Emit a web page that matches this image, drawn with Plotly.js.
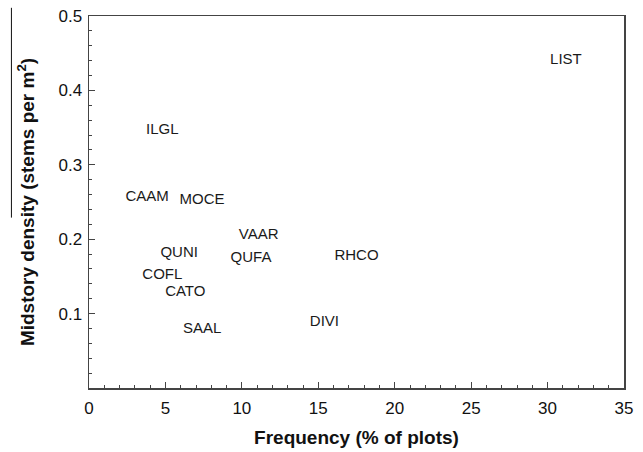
<!DOCTYPE html>
<html>
<head>
<meta charset="utf-8">
<script src="https://cdn.plot.ly/plotly-3.0.1.min.js"></script>
<style>html,body{margin:0;padding:0;background:#fff}#chart{width:643px;height:452px}</style>
</head>
<body>
<div id="chart"></div>
<script>
var species = ["LIST","ILGL","CAAM","MOCE","VAAR","QUNI","QUFA","RHCO","COFL","CATO","SAAL","DIVI"];
var frequency = [31.2, 4.8, 3.8, 7.4, 11.1, 5.9, 10.6, 17.5, 4.8, 6.3, 7.4, 15.4];
var density = [0.441, 0.346, 0.257, 0.253, 0.205, 0.181, 0.174, 0.177, 0.151, 0.129, 0.079, 0.089];
var yTickVals = [0.1, 0.2, 0.3, 0.4, 0.5];
var yTickText = ["0.1", "0.2", "0.3", "0.4", "0.5"];
var xTickVals = [0, 5, 10, 15, 20, 25, 30, 35];

var FONT = "Liberation Sans, Arial, sans-serif";

var trace = {
  x: frequency, y: density, text: species,
  type: "scatter", mode: "text",
  textposition: "middle center",
  textfont: {family: FONT, size: 15, color: "#1a1a1a"},
  hoverinfo: "none", showlegend: false
};

var axisCommon = {
  showgrid: false, zeroline: false, showline: true, mirror: true,
  linecolor: "#444", linewidth: 1.5,
  ticks: "inside", tickcolor: "#444", tickwidth: 1,
  tickfont: {family: FONT, size: 17, color: "#111"}
};

var layout = {
  width: 643, height: 452,
  margin: {l: 89, r: 19, t: 16, b: 64},
  paper_bgcolor: "#fff", plot_bgcolor: "#fff",
  xaxis: Object.assign({}, axisCommon, {
    range: [0, 35], tickmode: "array", tickvals: xTickVals, ticklen: 6,
    ticklabelstandoff: 4,
    minor: {dtick: 1, ticks: "inside", ticklen: 3, tickcolor: "#444", showgrid: false},
    title: {text: "<b>Frequency (% of plots)</b>", standoff: 14,
      font: {family: FONT, size: 19, color: "#111"}}
  }),
  yaxis: Object.assign({}, axisCommon, {
    range: [0, 0.5], tickmode: "array", tickvals: yTickVals, ticktext: yTickText, ticklen: 6,
    ticklabelstandoff: 2,
    minor: {dtick: 0.02, ticks: "inside", ticklen: 3, tickcolor: "#444", showgrid: false},
    title: {text: "<b>Midstory density (stems per m<sup>2</sup>)</b>", standoff: 19,
      font: {family: FONT, size: 19, color: "#111"}}
  }),
  shapes: [{type: "line", xref: "paper", yref: "paper", x0: -0.145, x1: -0.145, y0: 1.022, y1: 0.458,
    line: {color: "#111", width: 1}}]
};

Plotly.newPlot("chart", [trace], layout, {displayModeBar: false, staticPlot: true});
</script>
</body>
</html>
